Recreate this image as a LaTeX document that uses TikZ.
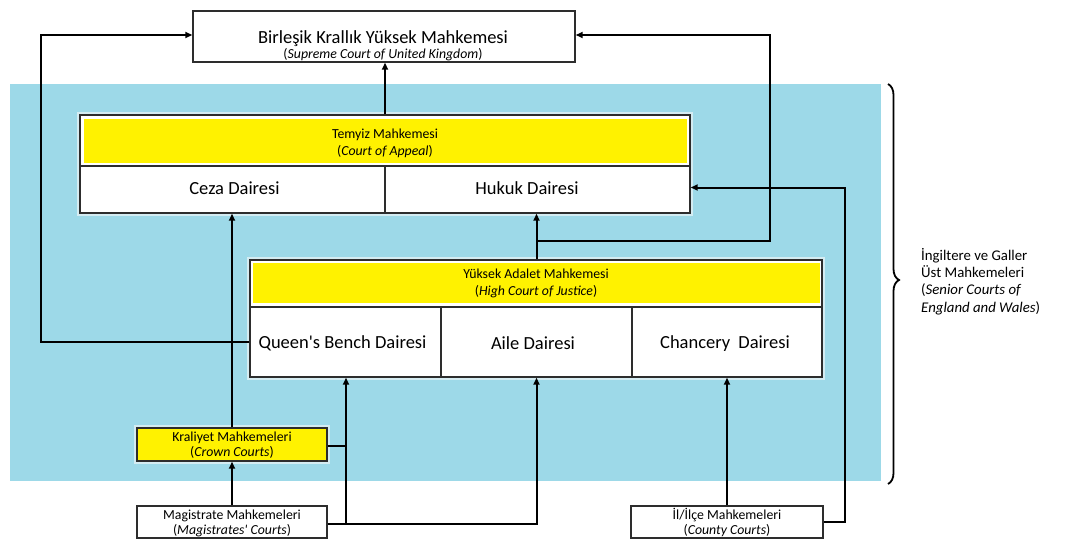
\documentclass[tikz,border=0pt]{standalone}
\usepackage{fontspec}
\setmainfont{Carlito}
\usetikzlibrary{arrows.meta,decorations.pathreplacing}
\definecolor{bg}{RGB}{157,217,232}
\definecolor{yel}{RGB}{255,242,0}
\definecolor{boxc}{RGB}{45,45,45}
\definecolor{halo}{RGB}{212,236,242}
\newcommand\fbig{\fontsize{18.5}{22}\selectfont}
\newcommand\fsml{\fontsize{13.8}{16.5}\selectfont}
\newcommand\fbr{\fontsize{14.8}{17.3}\selectfont}
\begin{document}
\begin{tikzpicture}[x=1pt,y=-1pt,
  box/.style={draw=boxc, line width=1.4pt, fill=white, inner sep=0pt},
  hbox/.style={box, preaction={draw=halo, line width=6pt}},
  band/.style={fill=yel, inner sep=0pt},
  txt/.style={inner sep=0pt, anchor=base},
  arr/.style={draw=black, line width=2pt, -{Triangle[length=7pt,width=6pt]}},
  conn/.style={draw=black, line width=2pt}]
\useasboundingbox (0,0) rectangle (1067,543);
\fill[white] (0,0) rectangle (1067,543);
\fill[bg] (10,84) rectangle (881,481);

% Supreme Court
\node[box, minimum width=382pt, minimum height=51pt] (sup) at (384,36.5) {};
\node[txt] (supA) at (383,43.5) {\fbig Birleşik Krallık Yüksek Mahkemesi};
\node[txt] (supB) at (383,59) {\fsml(\textit{Supreme Court of United Kingdom})};

% Court of Appeal
\node[hbox, minimum width=610pt, minimum height=98pt] (coa) at (385,164) {};
\node[band, minimum width=603pt, minimum height=44pt] (coaband) at (385,141) {};
\node[txt] (coaA) at (385,138) {\fsml Temyiz Mahkemesi};
\node[txt] (coaB) at (385,155) {\fsml(\textit{Court of Appeal})};
\node[box, minimum width=305pt, minimum height=47pt] (ceza) at (232.5,189.5) {};
\node[box, minimum width=305pt, minimum height=47pt] (hukuk) at (537.5,189.5) {};
\node[txt] (cezaT) at (234.5,194) {\fbig Ceza Dairesi};
\node[txt] (hukukT) at (527,194) {\fbig Hukuk Dairesi};

% High Court of Justice
\node[hbox, minimum width=572pt, minimum height=117pt] (hc) at (536,318.5) {};
\node[band, minimum width=567pt, minimum height=40pt] (hcband) at (536.5,283) {};
\node[txt] (hcA) at (536,278.5) {\fsml Yüksek Adalet Mahkemesi};
\node[txt] (hcB) at (536,295.5) {\fsml(\textit{High Court of Justice})};
\node[box, minimum width=191pt, minimum height=70pt] (qb) at (345.5,342) {};
\node[box, minimum width=191pt, minimum height=70pt] (aile) at (536.5,342) {};
\node[box, minimum width=190pt, minimum height=70pt] (ch) at (727,342) {};
\node[txt] (qbT) at (342.5,348) {\fbig Queen\textquotesingle s Bench Dairesi};
\node[txt] (aileT) at (533,349) {\fbig Aile Dairesi};
\node[txt] (chT) at (725,348) {\fbig Chancery\hspace{4pt} Dairesi};

% Crown, Magistrates, County
\node[hbox, fill=yel, minimum width=190pt, minimum height=33pt] (crown) at (232,444.5) {};
\node[txt] (crownA) at (232,441) {\fsml Kraliyet Mahkemeleri};
\node[txt] (crownB) at (232,456) {\fsml(\textit{Crown Courts})};
\node[box, minimum width=190pt, minimum height=32pt] (mag) at (232,522) {};
\node[txt] (magA) at (232,519) {\fsml Magistrate Mahkemeleri};
\node[txt] (magB) at (232,534) {\fsml(\textit{Magistrates\textquotesingle\ Courts})};
\node[box, minimum width=192pt, minimum height=32pt] (county) at (727,522) {};
\node[txt] (countyA) at (727,519) {\fsml İl/İlçe Mahkemeleri};
\node[txt] (countyB) at (727,534) {\fsml(\textit{County Courts})};

% helper coordinates
\coordinate (lx) at (41,0);
\coordinate (rx) at (770,0);
\coordinate (cx) at (845,0);
\coordinate (qx) at (346,0);
\coordinate (jr) at (536.5,241);

% connectors
\draw[arr] (coa.north) -- (coa.north |- sup.south);
\draw[arr] (qb.west) -- (qb.west -| lx) |- ([yshift=1.5pt]sup.west);
\draw[arr] (hc.north -| aile.north) -- (hukuk.south -| aile.north);
\draw[arr] (jr) -- (jr -| rx) |- ([yshift=1.5pt]sup.east);
\draw[arr] (county.north) -- (county.north |- ch.south);
\draw[arr] (county.east) -- (county.east -| cx) |- ([yshift=2pt]hukuk.east);
\draw[arr] (mag.north) -- (crown.south);
\draw[arr] (crown.north) -- (crown.north |- ceza.south);
\draw[arr] ([yshift=-1.5pt]crown.east) -| (qb.south -| qx);
\draw[conn] ([yshift=-2pt]mag.east) -| ([yshift=-1.5pt]crown.east -| qx);
\draw[arr] ([yshift=-2pt]mag.east) -| (aile.south);

% brace and label
\draw[line width=1.8pt, decorate, decoration={brace, amplitude=11pt, aspect=0.49}] (888,84) -- (888,484);
\node[inner sep=0pt, anchor=north west, align=left, font=\fbr] (lbl) at (921,248) {İngiltere ve Galler\\Üst Mahkemeleri\\(\textit{Senior Courts of}\\\textit{England and Wales})};
\end{tikzpicture}
\end{document}
